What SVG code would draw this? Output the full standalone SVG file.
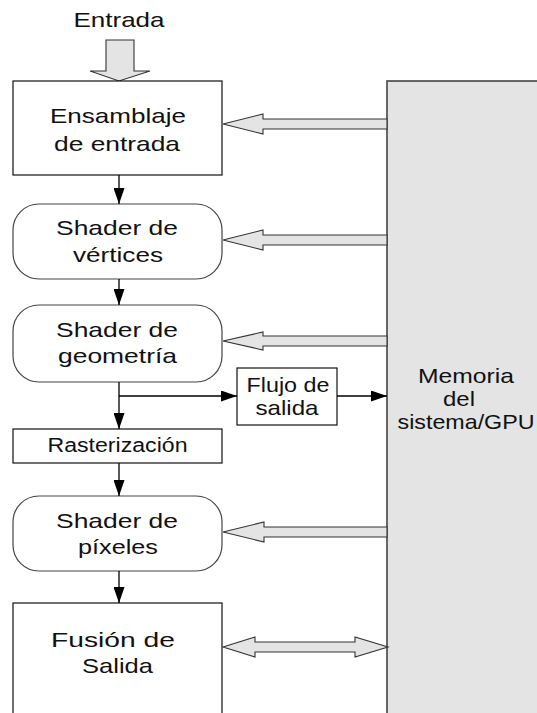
<svg xmlns="http://www.w3.org/2000/svg" width="537" height="713" viewBox="0 0 537 713">
  <style>
    .lbl { font-family: "Liberation Sans", Arial, sans-serif; font-size: 21px; fill: #111; text-anchor: middle; }
    .small { font-size: 20px; }
    .box { fill: #fff; stroke: #111; stroke-width: 1.2; }
    .rbox { fill: #fff; stroke: #444; stroke-width: 1.2; }
    .mem { fill: #e4e4e4; stroke: #444; stroke-width: 1.6; }
    .bus { fill: #e4e4e4; stroke: #333; stroke-width: 1.1; stroke-linejoin: miter; }
    .flow { fill: none; stroke: #000; stroke-width: 1.3; }
  </style>
  <defs>
    <marker id="tri" viewBox="0 0 16 11" refX="16" refY="5.5" markerWidth="16" markerHeight="11" markerUnits="userSpaceOnUse" orient="auto">
      <path d="M0,0 L16,5.5 L0,11 Z" fill="#000"/>
    </marker>
  </defs>

  <rect width="537" height="713" fill="#fff"/>

  <!-- system / GPU memory -->
  <g id="memoria">
    <rect class="mem" x="387" y="81" width="160" height="640"/>
    <text class="lbl" x="466" y="383" textLength="96" lengthAdjust="spacingAndGlyphs">Memoria</text>
    <text class="lbl" x="459" y="406" textLength="32" lengthAdjust="spacingAndGlyphs">del</text>
    <text class="lbl" x="466" y="429" textLength="137" lengthAdjust="spacingAndGlyphs">sistema/GPU</text>
  </g>

  <!-- input label and arrow -->
  <g id="entrada">
    <text class="lbl" x="119" y="27" textLength="91" lengthAdjust="spacingAndGlyphs">Entrada</text>
    <path class="bus" d="M106,40 L134,40 L134,71 L150,71 L119,81 L90,71 L106,71 Z"/>
  </g>

  <g id="ensamblaje">
    <rect class="box" x="13" y="81" width="209" height="94"/>
    <text class="lbl" x="118" y="123" textLength="136" lengthAdjust="spacingAndGlyphs">Ensamblaje</text>
    <text class="lbl" x="117" y="151" textLength="126" lengthAdjust="spacingAndGlyphs">de entrada</text>
  </g>

  <g id="vertices">
    <rect class="rbox" x="13" y="204" width="209" height="75" rx="26" ry="26"/>
    <text class="lbl" x="117" y="235" textLength="122" lengthAdjust="spacingAndGlyphs">Shader de</text>
    <text class="lbl" x="118" y="262" textLength="90" lengthAdjust="spacingAndGlyphs">vértices</text>
  </g>

  <g id="geometria">
    <rect class="rbox" x="13" y="305" width="209" height="77" rx="26" ry="26"/>
    <text class="lbl" x="117" y="337" textLength="122" lengthAdjust="spacingAndGlyphs">Shader de</text>
    <text class="lbl" x="117.5" y="363" textLength="119" lengthAdjust="spacingAndGlyphs">geometría</text>
  </g>

  <g id="flujo">
    <rect class="box" x="237" y="368" width="100" height="57"/>
    <text class="lbl" x="288" y="392" textLength="83" lengthAdjust="spacingAndGlyphs">Flujo de</text>
    <text class="lbl" x="287" y="415" textLength="63" lengthAdjust="spacingAndGlyphs">salida</text>
  </g>

  <g id="rasterizacion">
    <rect class="box" x="13" y="429" width="209" height="34"/>
    <text class="lbl small" x="117.5" y="452" textLength="140" lengthAdjust="spacingAndGlyphs">Rasterización</text>
  </g>

  <g id="pixeles">
    <rect class="rbox" x="13" y="496" width="209" height="75" rx="26" ry="26"/>
    <text class="lbl" x="117" y="528" textLength="122" lengthAdjust="spacingAndGlyphs">Shader de</text>
    <text class="lbl" x="118" y="554" textLength="80" lengthAdjust="spacingAndGlyphs">píxeles</text>
  </g>

  <g id="fusion">
    <rect class="box" x="13" y="603" width="209" height="130"/>
    <text class="lbl" x="113" y="647" textLength="124" lengthAdjust="spacingAndGlyphs">Fusión de</text>
    <text class="lbl" x="117.5" y="673" textLength="71" lengthAdjust="spacingAndGlyphs">Salida</text>
  </g>

  <g id="connectors">
    <!-- pipeline flow -->
    <line class="flow" x1="119" y1="175" x2="119" y2="204" marker-end="url(#tri)"/>
    <line class="flow" x1="119" y1="279" x2="119" y2="305" marker-end="url(#tri)"/>
    <line class="flow" x1="119" y1="382" x2="119" y2="429" marker-end="url(#tri)"/>
    <line class="flow" x1="119" y1="396" x2="237" y2="396" marker-end="url(#tri)"/>
    <line class="flow" x1="337" y1="396" x2="387" y2="396" marker-end="url(#tri)"/>
    <line class="flow" x1="119" y1="463" x2="119" y2="496" marker-end="url(#tri)"/>
    <line class="flow" x1="119" y1="571" x2="119" y2="603" marker-end="url(#tri)"/>

    <!-- memory reads -->
    <path class="bus" d="M223,124 L263,114 L263,119 L387,119 L387,129 L263,129 L263,134 Z"/>
    <path class="bus" d="M223,240 L263,230 L263,235 L387,235 L387,245 L263,245 L263,250 Z"/>
    <path class="bus" d="M223,341 L263,332 L263,336 L387,336 L387,346 L263,346 L263,350 Z"/>
    <path class="bus" d="M223,532 L264,522 L264,527 L387,527 L387,537 L264,537 L264,542 Z"/>
    <!-- read/write with output merger -->
    <path class="bus" d="M223,647 L255,637 L255,642 L355,642 L355,637 L388,647 L355,657 L355,652 L255,652 L255,657 Z"/>
  </g>
</svg>
